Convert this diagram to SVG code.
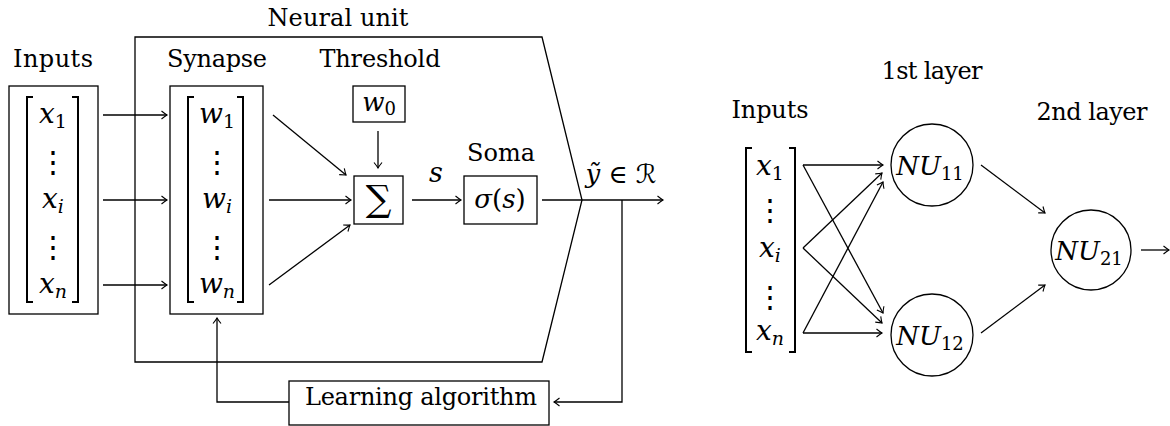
<svg xmlns="http://www.w3.org/2000/svg" width="1170" height="426" viewBox="0 0 1170 426">
<defs>
<marker id="ah" viewBox="-7 -5 9 10" refX="0" refY="0" markerWidth="9" markerHeight="10" markerUnits="userSpaceOnUse" orient="auto">
<path d="M-5.5,-4 Q-1.8,-1 0,0 Q-1.8,1 -5.5,4" fill="none" stroke="#000" stroke-width="1.1"/>
</marker>
</defs>

<g id="neural-unit">
<polygon points="135,37 542,37 582,200 542,362 135,362" fill="none" stroke="#000" stroke-width="1.3"/>
<text font-family="DejaVu Serif" font-size="24" text-anchor="middle" x="338" y="26" textLength="141">Neural unit</text>
</g>

<g id="inputs">
<text font-family="DejaVu Serif" font-size="24" text-anchor="middle" x="53" y="67" textLength="80">Inputs</text>
<rect x="9" y="86" width="89" height="228" fill="none" stroke="#000" stroke-width="1.3"/>
<path d="M33,97 H27 V302 H33 M72,97 H78 V302 H72" fill="none" stroke="#000" stroke-width="2"/>
<text font-family="DejaVu Serif" font-style="italic" font-size="28" text-anchor="middle" x="53" y="123">x<tspan font-style="normal" font-size="19" dy="5">1</tspan></text>
<text font-family="DejaVu Serif" font-size="30" text-anchor="middle" x="53" y="172">⋮</text>
<text font-family="DejaVu Serif" font-style="italic" font-size="28" text-anchor="middle" x="53" y="208">x<tspan font-size="19" dy="5">i</tspan></text>
<text font-family="DejaVu Serif" font-size="30" text-anchor="middle" x="53" y="257">⋮</text>
<text font-family="DejaVu Serif" font-style="italic" font-size="28" text-anchor="middle" x="53" y="293">x<tspan font-size="19" dy="5">n</tspan></text>
</g>

<g id="synapse">
<text font-family="DejaVu Serif" font-size="24" text-anchor="middle" x="217" y="67" textLength="100">Synapse</text>
<rect x="170" y="86" width="93" height="228" fill="none" stroke="#000" stroke-width="1.3"/>
<path d="M194,97 H188 V302 H194 M237,97 H243 V302 H237" fill="none" stroke="#000" stroke-width="2"/>
<text font-family="DejaVu Serif" font-style="italic" font-size="28" text-anchor="middle" x="217" y="123">w<tspan font-style="normal" font-size="19" dy="5">1</tspan></text>
<text font-family="DejaVu Serif" font-size="30" text-anchor="middle" x="217" y="172">⋮</text>
<text font-family="DejaVu Serif" font-style="italic" font-size="28" text-anchor="middle" x="217" y="208">w<tspan font-size="19" dy="5">i</tspan></text>
<text font-family="DejaVu Serif" font-size="30" text-anchor="middle" x="217" y="257">⋮</text>
<text font-family="DejaVu Serif" font-style="italic" font-size="28" text-anchor="middle" x="217" y="293">w<tspan font-size="19" dy="5">n</tspan></text>
</g>

<g id="threshold">
<text font-family="DejaVu Serif" font-size="24" text-anchor="middle" x="380" y="67" textLength="121">Threshold</text>
<rect x="353" y="86" width="52" height="36" fill="none" stroke="#000" stroke-width="1.3"/>
<text font-family="DejaVu Serif" font-style="italic" font-size="26" text-anchor="middle" x="379" y="111">w<tspan font-style="normal" font-size="18" dy="4">0</tspan></text>
</g>

<g id="sum">
<rect x="354" y="176" width="49" height="48" fill="none" stroke="#000" stroke-width="1.3"/>
<text font-family="DejaVu Serif" font-size="36" text-anchor="middle" x="378.5" y="211">∑</text>
</g>

<g id="soma">
<text font-family="DejaVu Serif" font-size="24" text-anchor="middle" x="501" y="161" textLength="68">Soma</text>
<rect x="464" y="176" width="73" height="48" fill="none" stroke="#000" stroke-width="1.3"/>
<text font-family="DejaVu Serif" font-style="italic" font-size="26" text-anchor="middle" x="500" y="208">σ<tspan font-style="normal">(</tspan>s<tspan font-style="normal">)</tspan></text>
</g>

<g id="labels">
<text font-family="DejaVu Serif" font-style="italic" font-size="27" text-anchor="middle" x="436" y="182">s</text>
<text font-family="DejaVu Serif" font-style="italic" font-size="26" text-anchor="middle" x="621" y="183">ỹ <tspan font-style="normal">∈</tspan> <tspan font-family="DejaVu Sans">ℛ</tspan></text>
</g>

<g id="learning">
<rect x="289" y="381" width="260" height="44" fill="none" stroke="#000" stroke-width="1.3"/>
<text font-family="DejaVu Serif" font-size="24" text-anchor="middle" x="421" y="405" textLength="232">Learning algorithm</text>
</g>

<g id="inputs2">
<text font-family="DejaVu Serif" font-size="24" text-anchor="middle" x="770" y="118" textLength="77">Inputs</text>
<path d="M752,148 H746 V352 H752 M789,148 H795 V352 H789" fill="none" stroke="#000" stroke-width="2"/>
<text font-family="DejaVu Serif" font-style="italic" font-size="28" text-anchor="middle" x="770" y="175">x<tspan font-style="normal" font-size="19" dy="5">1</tspan></text>
<text font-family="DejaVu Serif" font-size="30" text-anchor="middle" x="770" y="220">⋮</text>
<text font-family="DejaVu Serif" font-style="italic" font-size="28" text-anchor="middle" x="770" y="257">x<tspan font-size="19" dy="5">i</tspan></text>
<text font-family="DejaVu Serif" font-size="30" text-anchor="middle" x="770" y="307">⋮</text>
<text font-family="DejaVu Serif" font-style="italic" font-size="28" text-anchor="middle" x="770" y="340">x<tspan font-size="19" dy="5">n</tspan></text>
</g>

<g id="layer1">
<text font-family="DejaVu Serif" font-size="24" text-anchor="middle" x="932" y="79" textLength="101">1st layer</text>
</g>
<g id="nu11">
<circle cx="932" cy="165" r="41" fill="none" stroke="#000" stroke-width="1.3"/>
<text font-family="DejaVu Serif" font-style="italic" font-size="26" text-anchor="middle" x="930" y="175">NU<tspan font-style="normal" font-size="18" dy="5">11</tspan></text>
</g>
<g id="nu12">
<circle cx="932" cy="335" r="41" fill="none" stroke="#000" stroke-width="1.3"/>
<text font-family="DejaVu Serif" font-style="italic" font-size="26" text-anchor="middle" x="930" y="345">NU<tspan font-style="normal" font-size="18" dy="5">12</tspan></text>
</g>
<g id="layer2">
<text font-family="DejaVu Serif" font-size="24" text-anchor="middle" x="1092" y="120" textLength="111">2nd layer</text>
</g>
<g id="nu21">
<circle cx="1091" cy="250" r="40" fill="none" stroke="#000" stroke-width="1.3"/>
<text font-family="DejaVu Serif" font-style="italic" font-size="26" text-anchor="middle" x="1089" y="260">NU<tspan font-style="normal" font-size="18" dy="5">21</tspan></text>
</g>

<g id="connectors" fill="none" stroke="#000" stroke-width="1.3" marker-end="url(#ah)">
<line x1="103" y1="115" x2="167" y2="115"/>
<line x1="103" y1="200" x2="167" y2="200"/>
<line x1="103" y1="285" x2="167" y2="285"/>
<line x1="273" y1="115" x2="346" y2="175"/>
<line x1="269" y1="200" x2="351" y2="200"/>
<line x1="269" y1="285" x2="350" y2="225"/>
<line x1="378" y1="131" x2="378" y2="168"/>
<line x1="412" y1="200" x2="461" y2="200"/>
<line x1="542" y1="200" x2="663" y2="200"/>
<path d="M622,200 V402 H554"/>
<path d="M289,402 H217 V318"/>
<line x1="803" y1="165" x2="883" y2="165"/>
<line x1="803" y1="165" x2="883" y2="313"/>
<line x1="803" y1="248" x2="882" y2="173"/>
<line x1="803" y1="248" x2="882" y2="323"/>
<line x1="803" y1="333" x2="883" y2="182"/>
<line x1="803" y1="333" x2="882" y2="333"/>
<line x1="981" y1="165" x2="1045" y2="213"/>
<line x1="981" y1="333" x2="1045" y2="285"/>
<line x1="1141" y1="250" x2="1169" y2="250"/>
</g>
</svg>
